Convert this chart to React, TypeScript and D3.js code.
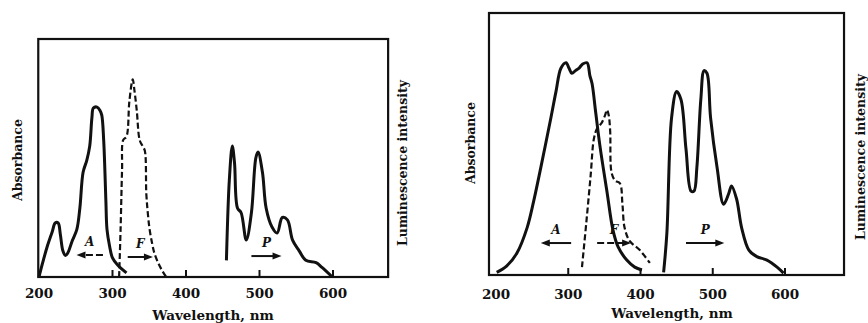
import React, { useEffect, useRef } from "react";
import * as d3 from "d3";

type Pt = [number, number];

// x ticks shared by both panels
const tickValues = [200, 300, 400, 500, 600];

// left panel: wavelength (nm), relative intensity (0-100)
const leftAbsorption: Pt[] = [
  [200, 0], [205, 6], [211, 12.6], [218, 19], [222, 22.7], [226, 22.7], [229, 18],
  [232.5, 11], [236, 9], [239, 10], [245, 15], [251.5, 20], [255.6, 29], [260, 44],
  [265, 49], [269, 55], [272, 67], [274, 71], [279, 71.4], [283, 70], [285.4, 68],
  [288, 57.5], [291, 32], [292.5, 20], [296, 13], [300, 8], [307, 5], [319, 1.7],
];
const leftFluorescence: Pt[] = [
  [309, 0], [311, 20], [313, 45], [314.5, 57.5], [319, 59], [323, 74], [327.5, 83],
  [330, 78], [333, 70], [337, 57.5], [341, 55], [344, 53], [346, 35], [348, 27],
  [350.5, 20], [354, 14], [357, 10], [362, 6], [367, 3], [373, 0],
];
const leftPhosphorescence: Pt[] = [
  [455, 7], [459, 41], [463, 55], [466, 48], [470, 29], [475, 27], [482, 15.5],
  [489, 27], [495, 50], [498, 52.5], [504, 44], [509, 29], [517, 21], [524, 18.5],
  [531, 25], [538, 24], [545, 15.5], [554, 11], [563, 7], [577, 6], [585, 4], [599, 0],
];

// right panel
const rightAbsorption: Pt[] = [
  [201, 1], [215, 3.5], [229, 8.4], [243, 18], [252, 28], [262, 41], [276, 60],
  [283, 70], [290, 79], [297, 81], [301, 79], [305, 77], [310, 78], [315, 79],
  [320, 80.5], [326, 81], [330, 76], [333, 73], [338, 62], [344, 49], [353.5, 32],
  [362, 17], [369, 10.7], [381, 5.7], [392, 3], [402, 1.9],
];
const rightFluorescence: Pt[] = [
  [319, 3], [325, 20], [331, 38], [335.5, 52], [340, 56], [346, 58], [351, 61],
  [353.5, 63], [356, 61], [358, 55], [360, 39], [365, 36], [371.5, 35], [375, 27],
  [378, 18], [385, 13], [399, 9.5], [413, 4.6],
];
const rightPhosphorescence: Pt[] = [
  [432, 1], [436.5, 16], [443, 60], [450, 70], [456, 67], [463, 48], [470, 32],
  [474, 32], [478, 41], [483.5, 67], [488, 78], [492, 77], [497, 60], [506, 41],
  [515, 27], [522, 31], [526, 34], [533, 29], [540, 18], [550, 9.5], [561, 7],
  [575, 5.7], [589, 3], [598, 0.7],
];

// arrows: label, from nm, to nm, height
const leftArrows: [string, number, number, number][] = [
  ["A", 287, 251, 9.2],
  ["F", 320.7, 355, 8.4],
  ["P", 489, 530, 8.8],
];
const rightArrows: [string, number, number, number][] = [
  ["A", 304, 262, 12.2],
  ["F", 340, 387, 12.2],
  ["P", 463, 516, 12.2],
];

const FONT = "'DejaVu Serif', 'Liberation Serif', serif";

const Panel = (svg, cfg) => {
  const x = d3.scaleLinear().domain([200, 600]).range(cfg.xRange);
  const y = d3.scaleLinear().domain([0, 100]).range([cfg.bottom, cfg.top]);
  const g = svg.append("g");

  const line = d3
    .line<Pt>()
    .x((d) => x(d[0]))
    .y((d) => y(d[1]))
    .curve(d3.curveCatmullRom.alpha(0.5));

  // curves
  cfg.series.forEach((s) => {
    g.append("path")
      .attr("d", line(s.data))
      .attr("fill", "none")
      .attr("stroke", "#111")
      .attr("stroke-width", s.dashed ? 2.2 : 3)
      .attr("stroke-dasharray", s.dashed ? "6,3" : null)
      .attr("stroke-linejoin", "round");
  });

  // frame
  g.append("rect")
    .attr("x", x(cfg.xMin))
    .attr("y", cfg.top)
    .attr("width", x(cfg.xMax) - x(cfg.xMin))
    .attr("height", cfg.bottom - cfg.top)
    .attr("fill", "none")
    .attr("stroke", "#111")
    .attr("stroke-width", 2.2);

  // inward ticks
  g.selectAll("line.tick")
    .data(tickValues.slice(1))
    .join("line")
    .attr("class", "tick")
    .attr("x1", (d) => x(d))
    .attr("x2", (d) => x(d))
    .attr("y1", cfg.bottom)
    .attr("y2", cfg.bottom - 7)
    .attr("stroke", "#111")
    .attr("stroke-width", 2);

  g.selectAll("text.tick")
    .data(tickValues)
    .join("text")
    .attr("class", "tick")
    .attr("x", (d) => x(d))
    .attr("y", cfg.tickY)
    .attr("text-anchor", "middle")
    .attr("font-family", FONT)
    .attr("font-weight", "bold")
    .attr("font-size", 13.5)
    .attr("fill", "#111")
    .text((d) => d);

  g.append("text")
    .attr("x", cfg.xLabel[0])
    .attr("y", cfg.xLabel[1])
    .attr("text-anchor", "middle")
    .attr("font-family", FONT)
    .attr("font-weight", "bold")
    .attr("font-size", 13.5)
    .attr("fill", "#111")
    .text("Wavelength, nm");

  [
    ["Absorbance", cfg.absLabel],
    ["Luminescence intensity", cfg.lumLabel],
  ].forEach(([t, p]) => {
    g.append("text")
      .attr("transform", `translate(${p[0]},${p[1]}) rotate(-90)`)
      .attr("text-anchor", "middle")
      .attr("dominant-baseline", "middle")
      .attr("font-family", FONT)
      .attr("font-weight", "bold")
      .attr("font-size", 12.5)
      .attr("fill", "#111")
      .text(t);
  });

  // arrows with their letters
  cfg.arrows.forEach(([label, from, to, h], i) => {
    const x1 = x(from);
    const x2 = x(to);
    const yy = y(h);
    const dir = Math.sign(x2 - x1);
    g.append("line")
      .attr("x1", x1)
      .attr("x2", x2 - dir * 6)
      .attr("y1", yy)
      .attr("y2", yy)
      .attr("stroke", "#111")
      .attr("stroke-width", 2)
      .attr("stroke-dasharray", cfg.dashedArrows[i] ? "7,3" : null);
    g.append("path")
      .attr("d", `M${x2},${yy}L${x2 - dir * 9},${yy - 3.5}L${x2 - dir * 9},${yy + 3.5}Z`)
      .attr("fill", "#111");
    g.append("text")
      .attr("x", x((from + to) / 2))
      .attr("y", yy - 9)
      .attr("text-anchor", "middle")
      .attr("font-family", FONT)
      .attr("font-style", "italic")
      .attr("font-weight", "bold")
      .attr("font-size", 12)
      .attr("fill", "#111")
      .text(label);
  });
};

const App = () => {
  const ref = useRef(null);

  useEffect(() => {
    d3.select(ref.current).selectAll("*").remove();
    const svg = d3.select(ref.current);

    Panel(svg, {
      xRange: [39, 333],
      xMin: 199,
      xMax: 675,
      top: 39,
      bottom: 277,
      tickY: 298,
      xLabel: [213, 320],
      absLabel: [18, 160],
      lumLabel: [403, 163],
      series: [
        { data: leftAbsorption, dashed: false },
        { data: leftFluorescence, dashed: true },
        { data: leftPhosphorescence, dashed: false },
      ],
      arrows: leftArrows,
      dashedArrows: [true, false, false],
    });

    Panel(svg, {
      xRange: [496, 785],
      xMin: 190.3,
      xMax: 681.7,
      top: 13,
      bottom: 275,
      tickY: 299,
      xLabel: [672, 318],
      absLabel: [471, 143],
      lumLabel: [861, 157],
      series: [
        { data: rightAbsorption, dashed: false },
        { data: rightFluorescence, dashed: true },
        { data: rightPhosphorescence, dashed: false },
      ],
      arrows: rightArrows,
      dashedArrows: [false, true, false],
    });
  }, []);

  return (
    <svg
      ref={ref}
      width={868}
      height={323}
      style={{ position: "absolute", left: 0, top: 0, background: "#fff" }}
    />
  );
};

export default App;
